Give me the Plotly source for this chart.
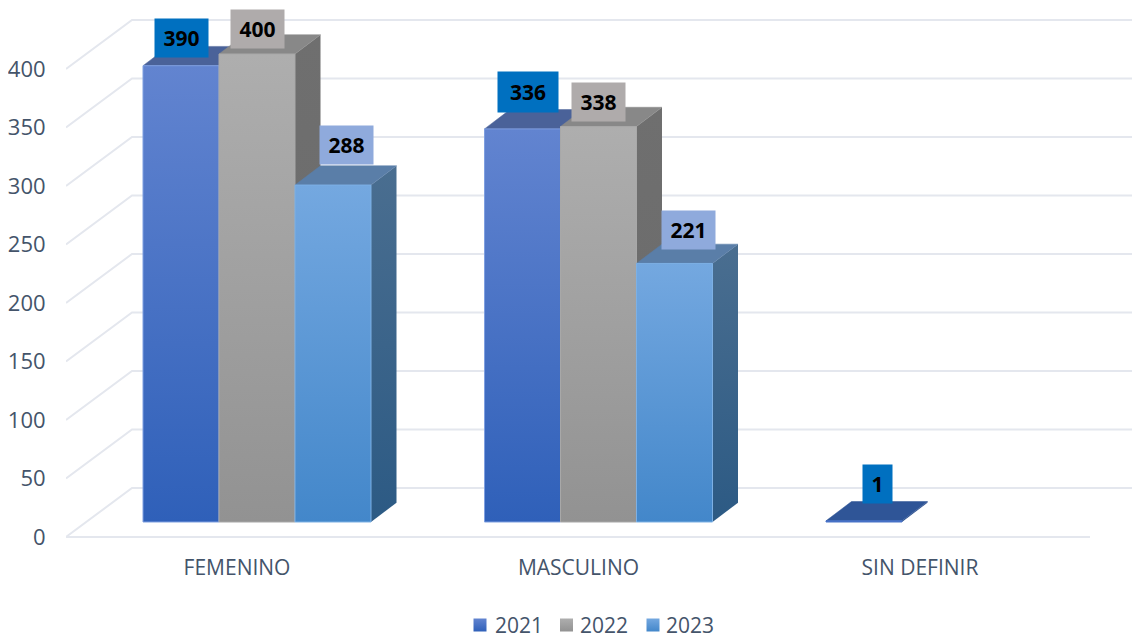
import plotly.graph_objects as go

categories = ["FEMENINO", "MASCULINO", "SIN DEFINIR"]
series_names = ["2021", "2022", "2023"]
values_2021 = [390, 336, 1]
values_2022 = [400, 338, None]
values_2023 = [288, 221, None]
axis_ticks = [0, 50, 100, 150, 200, 250, 300, 350, 400]

series = [values_2021, values_2022, values_2023]

# styling
front_top = ["#6284d0", "#aeaeae", "#74a8e0"]
front_bottom = ["#2f60b9", "#929292", "#4387ca"]
side_top = ["#3f5c96", "#6f6f6f", "#4a6e90"]
side_bottom = ["#2a4f8c", "#6a6a6a", "#2c5a84"]
top_color = ["#4a6299", "#888888", "#5a7ea8"]
edge_color = ["#7f9fe0", "#a8a8a8", "#7db0e4"]
label_bg = ["#0070c0", "#afabab", "#8faadc"]
INK = "#44546a"
GRID = "#e4e7ee"

# geometry in page pixels; the page body adds an 8 px offset to the figure
W, H = 1140, 634
PAGE = 8
LEFT = 66
AXIS_PX = 537
BAR_BASE_PX = 522
BACK_BASE_PX = 488
BACK_LEFT_PX = 132
FLOOR_RIGHT_PX = 1090
PX_PER_UNIT = 1.17
CENTER0_PX = 257.0
STEP_PX = 341.5
BAR_W_PX = 76
DEPTH_X_PX = 25.5
DEPTH_Y_PX = 19.3
LEGEND_Y_PX = 625
LEGEND_SWATCH_PX = [480, 566.5, 653]
LEGEND_TEXT_PX = [494, 579, 665]


def xu(px):
    return (px - CENTER0_PX) / STEP_PX


bar_w = BAR_W_PX / STEP_PX
dx = DEPTH_X_PX / STEP_PX
dy = DEPTH_Y_PX / PX_PER_UNIT
back_lift = (AXIS_PX - BACK_BASE_PX) / PX_PER_UNIT
legend_y = (AXIS_PX - LEGEND_Y_PX) / PX_PER_UNIT

fig = go.Figure()

# back wall, diagonals and floor edge, on the labelled axis
gx, gy = [], []
for t in axis_ticks:
    gx += [xu(LEFT), xu(BACK_LEFT_PX), xu(W + 5), None]
    gy += [t, t + back_lift, t + back_lift, None]
gx += [xu(LEFT), xu(FLOOR_RIGHT_PX)]
gy += [0, 0]
fig.add_trace(go.Scatter(x=gx, y=gy, mode="lines", line=dict(color=GRID, width=2),
                         hoverinfo="skip", showlegend=False, yaxis="y"))

# front faces as real bars
for s, vals in enumerate(series):
    xs, ys = [], []
    for c, v in enumerate(vals):
        if v is not None:
            xs.append(c + (s - 1) * bar_w)
            ys.append(v)
    fig.add_trace(go.Bar(x=xs, y=ys, width=bar_w, name=series_names[s], yaxis="y2",
                         marker=dict(color=front_bottom[s], line=dict(width=0)),
                         showlegend=False))

# 3D faces computed from the values
for s, vals in enumerate(series):
    for c, v in enumerate(vals):
        if v is None:
            continue
        x0 = c + (s - 1.5) * bar_w
        x1 = x0 + bar_w
        short = v < 5
        tc = "#2f5597" if short else top_color[s]
        fig.add_trace(go.Scatter(
            x=[x1, x1 + dx, x1 + dx, x1, x1], y=[0, dy, v + dy, v, 0], mode="lines",
            fill="toself", line=dict(width=0),
            fillgradient=dict(type="vertical", colorscale=[[0, side_bottom[s]], [1, side_top[s]]]),
            hoverinfo="skip", showlegend=False, yaxis="y2"))
        fig.add_trace(go.Scatter(
            x=[x0, x1, x1 + dx, x0 + dx, x0], y=[v, v, v + dy, v + dy, v], mode="lines",
            fill="toself", fillcolor=tc, line=dict(width=0.5, color=tc),
            hoverinfo="skip", showlegend=False, yaxis="y2"))
        fig.add_trace(go.Scatter(
            x=[x0, x1, x1, x0, x0], y=[0, 0, v, v, 0], mode="lines",
            fill="toself", line=dict(width=1, color="#4a74c8" if short else edge_color[s]),
            fillgradient=dict(type="vertical", colorscale=[[0, front_bottom[s]], [1, front_top[s]]]),
            hoverinfo="skip", showlegend=False, yaxis="y2"))

annotations = []

# key: gradient swatches and their labels, placed like the reference's
for s, name in enumerate(series_names):
    fig.add_trace(go.Scatter(
        x=[xu(LEGEND_SWATCH_PX[s])], y=[legend_y], mode="markers", name=name, yaxis="y",
        hoverinfo="skip", showlegend=False,
        marker=dict(symbol="square", size=13, color=front_top[s], line=dict(width=0),
                    gradient=dict(type="vertical", color=front_bottom[s]))))
    annotations.append(dict(
        x=xu(LEGEND_TEXT_PX[s]), y=legend_y, xref="x", yref="y", text=name, showarrow=False,
        xanchor="left", yanchor="middle", borderpad=0,
        font=dict(family="Open Sans", size=21, color=INK)))

# data labels: page-pixel shift from the centre of each bar's top edge
label_shift = {
    (0, 0): (0, 28), (1, 0): (0, 25), (2, 0): (13, 40),
    (0, 1): (5, 37), (1, 1): (0, 25), (2, 1): (14, 33),
    (0, 2): (13, 37),
}
for s, vals in enumerate(series):
    for c, v in enumerate(vals):
        if v is None:
            continue
        sx, sy = label_shift[(s, c)]
        annotations.append(dict(
            x=c + (s - 1) * bar_w, y=v, xref="x", yref="y2", xshift=sx, yshift=sy,
            text=f"<b>{v}</b>", showarrow=False,
            font=dict(family="Open Sans", size=21, color="#000000"),
            bgcolor=label_bg[s], width=29 if v < 10 else (60 if v == 336 else 53),
            height=40 if v == 336 else 38, align="center", valign="middle",
            borderpad=0, xanchor="center", yanchor="middle"))

fig_w, fig_h = W - PAGE, H - PAGE
fig.update_layout(
    width=fig_w, height=fig_h, autosize=False,
    margin=dict(l=LEFT - PAGE, r=0, t=0, b=0, pad=0, autoexpand=False),
    paper_bgcolor="#ffffff", plot_bgcolor="#ffffff",
    barmode="overlay", showlegend=False,
    font=dict(family="Open Sans", color=INK),
    xaxis=dict(range=[xu(LEFT), xu(W)], tickmode="array",
               tickvals=[c - 20 / STEP_PX for c in range(len(categories))],
               ticktext=categories, showgrid=False, zeroline=False, showline=False,
               anchor="free", position=(H - AXIS_PX) / fig_h,
               ticks="outside", ticklen=12, tickcolor="rgba(0,0,0,0)",
               tickfont=dict(family="Open Sans", size=21, color=INK)),
    yaxis=dict(range=[-(H - AXIS_PX) / PX_PER_UNIT, (AXIS_PX - PAGE) / PX_PER_UNIT],
               tickmode="array", tickvals=axis_ticks,
               showgrid=False, zeroline=False, showline=False,
               ticks="outside", ticklen=15, tickcolor="rgba(0,0,0,0)",
               tickfont=dict(family="Open Sans", size=22, color=INK)),
    yaxis2=dict(range=[-(H - BAR_BASE_PX) / PX_PER_UNIT, (BAR_BASE_PX - PAGE) / PX_PER_UNIT],
                overlaying="y", side="left", visible=False),
    annotations=annotations,
)

fig.write_html("out.html", config=dict(displayModeBar=False))
